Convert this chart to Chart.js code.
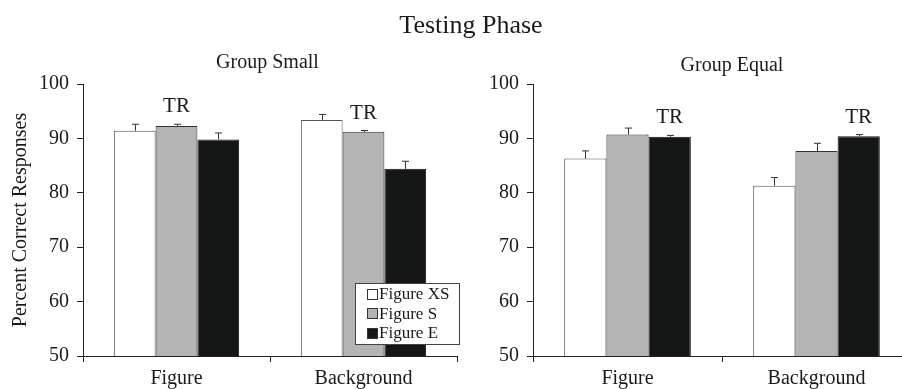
<!DOCTYPE html>
<html>
<head>
<meta charset="utf-8">
<script src="https://cdn.jsdelivr.net/npm/chart.js@4/dist/chart.umd.min.js"></script>
<style>
  html, body { margin: 0; padding: 0; background: #fff; overflow: hidden; }
  #stage { position: relative; width: 902px; height: 389px; overflow: hidden; }
  #mainTitle {
    position: absolute; left: 471px; top: 12px; transform: translateX(-50%);
    font-family: 'Liberation Serif', 'Times New Roman', serif; font-size: 26px;
    line-height: 26px; color: #1a1a1a; white-space: nowrap;
  }
  .box { position: absolute; top: 0; width: 470px; height: 389px; }
  #boxSmall { left: 0; }
  #boxEqual { left: 450px; }
</style>
</head>
<body>
<div id="stage">
  <div class="box" id="boxSmall"><canvas id="chartSmall"></canvas></div>
  <div class="box" id="boxEqual"><canvas id="chartEqual"></canvas></div>
  <div id="mainTitle">Testing Phase</div>
</div>
<script>
// ── data ──
const categories = ['Figure', 'Background'];
const seriesNames = ['Figure XS', 'Figure S', 'Figure E'];
const yTickMin = 50, yTickMax = 100, yTickStep = 10;

// Group Small
const smallXS = [91.4, 93.4];
const smallS = [92.3, 91.2];
const smallE = [89.8, 84.4];
const smallXSErr = [1.2, 1.0];
const smallSErr = [0.3, 0.25];
const smallEErr = [1.2, 1.4];
const smallTR = [1, 1]; // series index carrying the "TR" mark, per category

// Group Equal
const equalXS = [86.3, 81.3];
const equalS = [90.7, 87.7];
const equalE = [90.3, 90.4];
const equalXSErr = [1.4, 1.5];
const equalSErr = [1.2, 1.4];
const equalEErr = [0.25, 0.3];
const equalTR = [2, 2];

const SERIF = "'Liberation Serif', 'Times New Roman', serif";
const fills = ['#ffffff', '#b3b4b3', '#151716'];
const edges = ['#555555', '#333333', '#151716'];

// error bars (upper only) + TR labels + panel title
const extrasPlugin = {
  id: 'extras',
  afterDatasetsDraw(chart, args, opts) {
    const ctx = chart.ctx;
    const y = chart.scales.y;
    ctx.save();
    ctx.strokeStyle = '#333';
    ctx.lineWidth = 1;
    chart.data.datasets.forEach((ds, di) => {
      chart.getDatasetMeta(di).data.forEach((bar, i) => {
        const top = y.getPixelForValue(ds.data[i] + ds.err[i]);
        const x = Math.round(bar.x) + 0.5;
        ctx.beginPath();
        ctx.moveTo(x, bar.y);
        ctx.lineTo(x, top);
        ctx.moveTo(x - 3.5, top);
        ctx.lineTo(x + 3.5, top);
        ctx.stroke();
      });
    });
    ctx.fillStyle = '#1a1a1a';
    ctx.font = '21px ' + SERIF;
    ctx.textAlign = 'center';
    ctx.textBaseline = 'alphabetic';
    opts.tr.forEach((di, i) => {
      const ds = chart.data.datasets[di];
      const bar = chart.getDatasetMeta(di).data[i];
      const top = y.getPixelForValue(ds.data[i] + ds.err[i]);
      ctx.fillText('TR', bar.x, top - 12);
    });
    ctx.font = '20px ' + SERIF;
    ctx.textBaseline = 'middle';
    ctx.fillText(opts.title, opts.titleX, opts.titleY);
    ctx.restore();
  }
};

const legendPlugin = {
  id: 'boxLegend',
  afterDraw(chart, args, opts) {
    if (!opts.show) return;
    const ctx = chart.ctx;
    ctx.save();
    ctx.fillStyle = '#fff';
    ctx.fillRect(355, 283, 104, 61);
    ctx.strokeStyle = '#444';
    ctx.lineWidth = 1;
    ctx.strokeRect(355.5, 283.5, 104, 61);
    ctx.font = '17px ' + SERIF;
    ctx.textBaseline = 'middle';
    ctx.textAlign = 'left';
    chart.data.datasets.forEach((ds, i) => {
      const cy = 294 + i * 19.3;
      ctx.fillStyle = ds.backgroundColor;
      ctx.fillRect(367, Math.round(cy - 5), 10, 10);
      ctx.strokeStyle = '#333';
      ctx.strokeRect(367.5, Math.round(cy - 5) + 0.5, 10, 10);
      ctx.fillStyle = '#1a1a1a';
      ctx.fillText(ds.label, 379, cy + 1);
    });
    ctx.restore();
  }
};

function makeChart(canvasId, values, errs, tr, title, titleX, titleY, showAxisTitle, showLegend, padRight) {
  const datasets = seriesNames.map((name, i) => ({
    label: name,
    data: values[i],
    err: errs[i],
    backgroundColor: fills[i],
    borderColor: edges[i],
    borderWidth: 1,
    categoryPercentage: 0.67,
    barPercentage: 1.0
  }));
  return new Chart(document.getElementById(canvasId), {
    type: 'bar',
    data: { labels: categories, datasets },
    plugins: [extrasPlugin, legendPlugin],
    options: {
      responsive: true,
      maintainAspectRatio: false,
      animation: false,
      layout: { padding: { top: 84, right: padRight, bottom: 0, left: 0 } },
      plugins: {
        legend: { display: false },
        tooltip: { enabled: false },
        extras: { tr, title, titleX, titleY },
        boxLegend: { show: showLegend }
      },
      scales: {
        x: {
          grid: { display: true, drawOnChartArea: false, tickLength: 6, color: '#222', offset: true },
          border: { display: true, color: '#222', width: 1 },
          ticks: { color: '#1a1a1a', padding: 5, font: { family: SERIF, size: 20 } },
          afterFit(scale) { scale.height = 33; }
        },
        y: {
          min: yTickMin,
          max: yTickMax,
          grid: { display: true, drawOnChartArea: false, tickLength: 6, color: '#222' },
          border: { display: true, color: '#222', width: 1 },
          ticks: { stepSize: yTickStep, color: '#1a1a1a', padding: 8, font: { family: SERIF, size: 20 } },
          title: {
            display: showAxisTitle,
            text: 'Percent Correct Responses',
            color: '#1a1a1a',
            padding: { top: 9, bottom: 0 },
            font: { family: SERIF, size: 20 }
          },
          afterFit(scale) { scale.width = 83; }
        }
      }
    }
  });
}

makeChart('chartSmall',
  [smallXS, smallS, smallE], [smallXSErr, smallSErr, smallEErr], smallTR,
  'Group Small', 267.5, 63, true, true, 13);
makeChart('chartEqual',
  [equalXS, equalS, equalE], [equalXSErr, equalSErr, equalEErr], equalTR,
  'Group Equal', 282, 66, false, false, 9);
</script>
</body>
</html>
